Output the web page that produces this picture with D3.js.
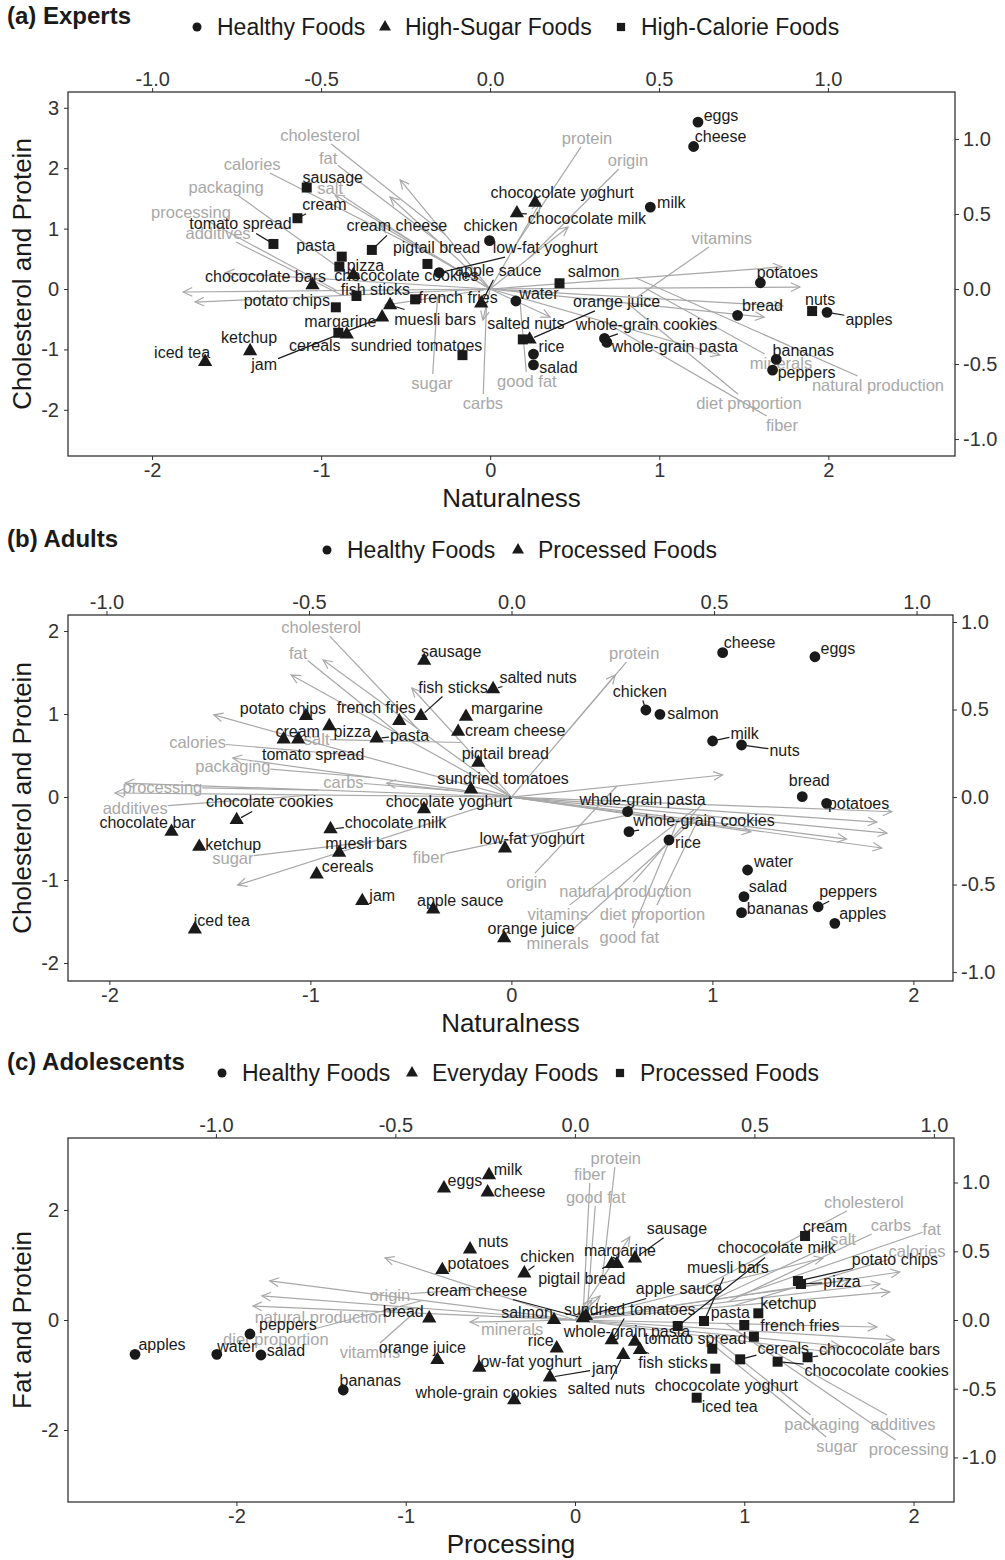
<!DOCTYPE html>
<html>
<head>
<meta charset="utf-8">
<script src="https://cdn.jsdelivr.net/npm/d3@7"></script>
<style>
  body { margin: 0; background: #fff; }
  svg { display: block; font-family: "Liberation Sans", Arial, sans-serif; }
</style>
</head>
<body>
<svg width="1005" height="1560"></svg>
<script>
'use strict';

// variables shown as arrows (same order in every panel)
const varNames = ['cholesterol', 'fat', 'calories', 'salt', 'packaging', 'processing', 'additives', 'sugar', 'carbs',
  'good fat', 'protein', 'origin', 'vitamins', 'minerals', 'natural production', 'diet proportion', 'fiber']

// ---- (a) Experts ----
const legendA = ['Healthy Foods', 'High-Sugar Foods', 'High-Calorie Foods']
const foodsA = ['eggs', 'cheese', 'milk', 'chicken', 'low-fat yoghurt', 'water', 'rice', 'salad', 'whole-grain cookies',
  'whole-grain pasta', 'potatoes', 'bread', 'apples', 'bananas', 'peppers',
  'chococolate yoghurt', 'chococolate milk', 'apple sauce', 'chococolate cookies', 'chococolate bars', 'muesli bars',
  'jam', 'cereals', 'ketchup', 'iced tea', 'orange juice',
  'sausage', 'cream', 'tomato spread', 'pasta', 'pizza', 'cream cheese', 'pigtail bread', 'potato chips', 'fish sticks',
  'margarine', 'french fries', 'salmon', 'salted nuts', 'nuts', 'sundried tomatoes']
const dim1A = [1.229, 1.203, 0.947, -0.004, -0.302, 0.152, 0.256, 0.256, 0.676, 0.69, 1.598, 1.463, 1.992, 1.692, 1.67,
  0.266, 0.158, -0.053, -0.809, -1.051, -0.592, -0.639, -0.848, -1.42, -1.686, 0.233,
  -1.085, -1.14, -1.282, -0.878, -0.892, -0.7, -0.371, -0.913, -0.791, -0.898, -0.444, 0.41, 0.193, 1.904, -0.164]
const dim2A = [2.764, 2.36, 1.355, 0.801, 0.27, -0.199, -1.078, -1.255, -0.818, -0.884, 0.104, -0.436, -0.386, -1.166, -1.343,
  1.431, 1.255, -0.237, 0.232, 0.066, -0.265, -0.469, -0.751, -1.028, -1.206, -0.834,
  1.68, 1.172, 0.746, 0.536, 0.37, 0.647, 0.415, -0.303, -0.116, -0.725, -0.171, 0.095, -0.834, -0.365, -1.095]
const groupA = [0, 0, 0, 0, 0, 0, 0, 0, 0, 0, 0, 0, 0, 0, 0,
  1, 1, 1, 1, 1, 1, 1, 1, 1, 1, 1,
  2, 2, 2, 2, 2, 2, 2, 2, 2, 2, 2, 2, 2, 2, 2]
const loadXA = [-0.266, -0.296, -0.325, -0.459, -0.784, -0.908, -0.873, -0.311, -0.021, 0.178, 0.148, 0.231, 0.867, 0.917, 0.864, 0.811, 0.68]
const loadYA = [0.727, 0.613, 0.427, 0.627, 0.107, -0.02, -0.087, -0.107, -0.207, -0.187, 0.573, 0.413, -0.113, 0.013, 0.147, -0.187, -0.44]
const labXA = [-0.503, -0.479, -0.704, -0.473, -0.781, -0.885, -0.805, -0.172, -0.021, 0.109, 0.287, 0.408, 0.686, 0.861, 1.148, 0.766, 0.864]
const labYA = [1.027, 0.873, 0.833, 0.673, 0.68, 0.513, 0.373, -0.627, -0.76, -0.613, 1.007, 0.86, 0.34, -0.493, -0.64, -0.76, -0.907]

// ---- (b) Adults ----
const legendB = ['Healthy Foods', 'Processed Foods']
const foodsB = ['cheese', 'eggs', 'chicken', 'salmon', 'milk', 'nuts', 'bread', 'potatoes', 'whole-grain pasta',
  'whole-grain cookies', 'rice', 'water', 'salad', 'bananas', 'peppers', 'apples',
  'sausage', 'salted nuts', 'fish sticks', 'french fries', 'margarine', 'potato chips', 'cream', 'tomato spread', 'pizza',
  'pasta', 'cream cheese', 'pigtail bread', 'sundried tomatoes', 'chocolate yoghurt', 'chocolate milk', 'chocolate cookies',
  'chocolate bar', 'ketchup', 'muesli bars', 'cereals', 'jam', 'apple sauce', 'iced tea', 'low-fat yoghurt', 'orange juice']
const dim1B = [1.051, 1.51, 0.669, 0.739, 1.001, 1.145, 1.447, 1.568, 0.578, 0.585, 0.784, 1.175, 1.157, 1.145, 1.526, 1.609,
  -0.434, -0.091, -0.45, -0.558, -0.226, -1.022, -1.133, -1.061, -0.906, -0.671, -0.265, -0.165, -0.201, -0.435, -0.9,
  -1.367, -1.691, -1.553, -0.857, -0.969, -0.742, -0.389, -1.575, -0.032, -0.036]
const dim2B = [1.739, 1.69, 1.048, 0.996, 0.675, 0.627, 0.004, -0.076, -0.177, -0.418, -0.518, -0.88, -1.201, -1.394, -1.322, -1.522,
  1.642, 1.301, 0.976, 0.916, 0.967, 0.976, 0.695, 0.695, 0.855, 0.707, 0.787, 0.413, 0.093, -0.145, -0.386,
  -0.277, -0.418, -0.598, -0.671, -0.931, -1.253, -1.353, -1.594, -0.618, -1.702]
const groupB = [0, 0, 0, 0, 0, 0, 0, 0, 0, 0, 0, 0, 0, 0, 0, 0,
  1, 1, 1, 1, 1, 1, 1, 1, 1, 1, 1, 1, 1, 1, 1, 1, 1, 1, 1, 1, 1, 1, 1, 1, 1]
const loadXB = [-0.465, -0.544, -0.735, -0.246, -0.688, -0.954, -0.979, -0.676, -0.308, 0.827, 0.256, 0.521, 0.902, 0.927, 0.939, 0.914, 0.591]
const loadYB = [0.783, 0.697, 0.469, 0.623, 0.223, 0.08, 0.023, -0.503, 0.08, -0.24, 0.697, 0.126, -0.143, -0.206, -0.084, -0.291, -0.198]
const labXB = [-0.47, -0.527, -0.775, -0.481, -0.688, -0.862, -0.929, -0.688, -0.415, 0.291, 0.303, 0.037, 0.114, 0.114, 0.281, 0.348, -0.204]
const labYB = [0.971, 0.823, 0.314, 0.33, 0.177, 0.057, -0.063, -0.349, 0.086, -0.8, 0.823, -0.486, -0.669, -0.834, -0.537, -0.669, -0.343]

// ---- (c) Adolescents ----
const legendC = ['Healthy Foods', 'Everyday Foods', 'Processed Foods']
const foodsC = ['apples', 'water', 'salad', 'peppers', 'bananas',
  'eggs', 'milk', 'cheese', 'nuts', 'potatoes', 'chicken', 'cream cheese', 'bread', 'orange juice', 'low-fat yoghurt',
  'whole-grain cookies', 'salmon', 'rice', 'margarine', 'pigtail bread', 'sausage', 'apple sauce', 'sundried tomatoes',
  'whole-grain pasta', 'fish sticks', 'salted nuts', 'jam',
  'cream', 'pizza', 'potato chips', 'ketchup', 'chococolate milk', 'muesli bars', 'pasta', 'french fries', 'tomato spread',
  'cereals', 'chococolate bars', 'chococolate cookies', 'chococolate yoghurt', 'iced tea']
const dim1C = [-2.599, -2.116, -1.855, -1.92, -1.369,
  -0.774, -0.508, -0.516, -0.62, -0.784, -0.299, 0.047, -0.861, -0.813, -0.565, -0.359, -0.124, -0.108, 0.248, 0.217,
  0.354, 0.065, 0.217, 0.354, 0.384, 0.285, -0.148,
  1.359, 1.335, 1.317, 1.083, 0.607, 0.762, 1.0, 1.057, 0.811, 0.976, 1.374, 1.197, 0.829, 0.719]
const dim2C = [-0.624, -0.624, -0.636, -0.255, -1.273,
  2.395, 2.636, 2.322, 1.285, 0.909, 0.849, 0.036, 0.031, -0.727, -0.867, -1.455, 0, -0.515, 1.018, 1.018,
  1.122, 0.073, -0.364, -0.395, -0.545, -0.636, -1.042,
  1.527, 0.655, 0.709, 0.122, -0.109, -0.018, -0.091, -0.304, -0.522, -0.715, -0.678, -0.758, -0.885, -1.413]
const groupC = [0, 0, 0, 0, 0,
  1, 1, 1, 1, 1, 1, 1, 1, 1, 1, 1, 1, 1, 1, 1, 1, 1, 1, 1, 1, 1, 1,
  2, 2, 2, 2, 2, 2, 2, 2, 2, 2, 2, 2, 2, 2]
const loadXC = [0.691, 0.905, 0.877, 0.766, 0.738, 0.841, 0.891, 0.71, 0.85, 0.07, 0.153, -0.529, -0.897, -0.292, -0.872, -0.85, 0.047]
const loadYC = [0.451, 0.349, 0.204, 0.291, -0.189, -0.051, -0.145, -0.233, 0.262, 0.175, 0.604, 0.451, 0.102, -0.015, 0.175, 0.284, 0.145]
const labXC = [0.805, 0.994, 0.953, 0.747, 0.688, 0.93, 0.914, 0.73, 0.88, 0.058, 0.114, -0.515, -0.571, -0.175, -0.708, -0.833, 0.042]
const labYC = [0.858, 0.662, 0.502, 0.589, -0.756, -0.938, -0.756, -0.916, 0.691, 0.895, 1.178, 0.182, -0.233, -0.065, 0.022, -0.138, 1.062]

// label placement (pixel offsets of each food label from its point, like repelled labels)
const nudgeA = [[23, -7], [27, -10], [21, -5], [1, -15], [106, -25], [23, -8], [18, -8], [25, 3], [42, -14], [68, 4],
  [27, -10], [25, -10], [42, 7], [27, -9], [34, 2], [27, -10], [70, 5], [17, -33], [53, 1], [-47, -9], [45, 14],
  [-118, 47], [-32, 11], [-1, -14], [-23, -9], [87, -38], [26, -10], [27, -14], [-33, -20], [-26, -11], [26, -1],
  [25, -24], [9, -16], [-49, -7], [19, -7], [2, -11], [43, -2], [34, -12], [3, -16], [8, -12], [-46, -10]]
const nudgeB = [[27, -10], [23, -8], [-6, -19], [33, -1], [32, -7], [43, 6], [7, -16], [32, 0], [15, -12], [75, -11],
  [19, 3], [26, -9], [24, -10], [36, -4], [30, -15], [28, -10], [27, -9], [45, -12], [32, -29], [-23, -13], [41, -8],
  [-23, -8], [14, -8], [15, 15], [23, 5], [33, -3], [57, -1], [27, -9], [32, -11], [25, -8], [65, -7], [33, -18],
  [-24, -9], [34, -2], [27, -9], [31, -8], [20, -5], [27, -9], [27, -9], [27, -10], [27, -10]]
const nudgeC = [[27, -10], [20, -8], [25, -4], [38, -10], [27, -10], [21, -8], [19, -6], [32, -1], [23, -8], [36, -7],
  [23, -17], [-106, -28], [-26, -7], [-15, -12], [50, -6], [-28, -8], [-27, -8], [-16, -8], [3, -14], [-30, 14],
  [42, -30], [93, -27], [18, -31], [-8, -10], [33, 13], [-17, 34], [55, -9], [20, -10], [41, -2], [97, -22], [30, -10],
  [99, -78], [24, -53], [-14, -13], [46, -11], [-17, -10], [43, -11], [72, -8], [99, 9], [11, 17], [33, 9]]

const panels = [
  { title: '(a) Experts', legend: legendA, legendX: [197, 385, 621], foods: foodsA, d1: dim1A, d2: dim2A, group: groupA,
    lx: loadXA, ly: loadYA, tx: labXA, ty: labYA, nudge: nudgeA,
    left: 68, right: 955, top: 92, bottom: 456,
    xDom: [-2.497, 2.749], yDom: [-2.765, 3.262], x2Dom: [-1.249, 1.376], y2Dom: [-1.113, 1.313],
    yTicks: [-2, -1, 0, 1, 2, 3], xTitle: 'Naturalness', yTitle: 'Cholesterol and Protein' },
  { title: '(b) Adults', legend: legendB, legendX: [327, 518], foods: foodsB, d1: dim1B, d2: dim2B, group: groupB,
    lx: loadXB, ly: loadYB, tx: labXB, ty: labYB, nudge: nudgeB,
    left: 68, right: 953, top: 615, bottom: 981,
    xDom: [-2.206, 2.197], yDom: [-2.217, 2.193], x2Dom: [-1.095, 1.09], y2Dom: [-1.051, 1.04],
    yTicks: [-2, -1, 0, 1, 2], xTitle: 'Naturalness', yTitle: 'Cholesterol and Protein' },
  { title: '(c) Adolescents', legend: legendC, legendX: [222, 412, 620], foods: foodsC, d1: dim1C, d2: dim2C, group: groupC,
    lx: loadXC, ly: loadYC, tx: labXC, ty: labYC, nudge: nudgeC,
    left: 68, right: 954, top: 1138, bottom: 1502,
    xDom: [-2.995, 2.239], yDom: [-3.309, 3.309], x2Dom: [-1.412, 1.056], y2Dom: [-1.324, 1.324],
    yTicks: [-2, 0, 2], xTitle: 'Processing', yTitle: 'Fat and Protein' }
]

const svg = d3.select('svg')
const ink = '#1a1a1a'
const grey = '#a8a8a8'
const shapes = [d3.symbolCircle, d3.symbolTriangle, d3.symbolSquare]
const shapeSize = [92, 88, 100]
const legendSize = [64, 62, 68]

// point where the segment from box centre to (px, py) leaves the box
function edgePoint(box, px, py, pad) {
  const cx = box.x + box.width / 2
  const cy = box.y + box.height / 2
  const hw = box.width / 2 + pad
  const hh = box.height / 2 + pad
  const dx = px - cx
  const dy = py - cy
  if (Math.abs(dx) <= hw && Math.abs(dy) <= hh) return null
  const s = Math.min(dx ? hw / Math.abs(dx) : Infinity, dy ? hh / Math.abs(dy) : Infinity)
  return [cx + dx * s, cy + dy * s]
}

function drawPanel(p) {
  const g = svg.append('g')
  const x = d3.scaleLinear().domain(p.xDom).range([p.left, p.right])
  const y = d3.scaleLinear().domain(p.yDom).range([p.bottom, p.top])
  const x2 = d3.scaleLinear().domain(p.x2Dom).range([p.left, p.right])
  const y2 = d3.scaleLinear().domain(p.y2Dom).range([p.bottom, p.top])

  // title + legend
  g.append('text').attr('x', 7).attr('y', p.top - 68)
    .style('font-size', '24px').style('font-weight', 'bold').style('fill', ink)
    .text(p.title)
  p.legend.forEach((name, i) => {
    const lx = p.legendX[i]
    const ly = p.top - 65
    g.append('path').attr('d', d3.symbol(shapes[i], legendSize[i])())
      .attr('transform', `translate(${lx},${ly})`).style('fill', ink)
    g.append('text').attr('x', lx + 20).attr('y', ly).attr('dominant-baseline', 'central')
      .style('font-size', '23px').style('fill', ink).text(name)
  })

  // axes
  const styleAxis = (sel) => {
    sel.select('.domain').remove()
    sel.selectAll('.tick line').style('stroke', '#333')
    sel.selectAll('.tick text').style('font-size', '20px').style('fill', '#333')
      .style('font-family', '"Liberation Sans", Arial, sans-serif')
  }
  const f1 = (d) => d.toFixed(1)
  g.append('g').attr('transform', `translate(0,${p.bottom})`)
    .call(d3.axisBottom(x).tickValues([-2, -1, 0, 1, 2]).tickFormat(String).tickSize(4).tickPadding(3))
    .call(styleAxis)
  g.append('g').attr('transform', `translate(${p.left},0)`)
    .call(d3.axisLeft(y).tickValues(p.yTicks).tickFormat(String).tickSize(4).tickPadding(5))
    .call(styleAxis)
  g.append('g').attr('transform', `translate(0,${p.top})`)
    .call(d3.axisTop(x2).tickValues([-1, -0.5, 0, 0.5, 1]).tickFormat(f1).tickSize(4).tickPadding(2))
    .call(styleAxis)
  g.append('g').attr('transform', `translate(${p.right},0)`)
    .call(d3.axisRight(y2).tickValues([-1, -0.5, 0, 0.5, 1]).tickFormat(f1).tickSize(4).tickPadding(4))
    .call(styleAxis)

  g.append('rect').attr('x', p.left).attr('y', p.top)
    .attr('width', p.right - p.left).attr('height', p.bottom - p.top)
    .style('fill', 'none').style('stroke', '#222').style('stroke-width', 1.2)

  g.append('text').attr('x', (p.left + p.right) / 2).attr('y', p.bottom + 51)
    .attr('text-anchor', 'middle').style('font-size', '26px').style('fill', ink).text(p.xTitle)
  g.append('text').attr('transform', `translate(22,${(p.top + p.bottom) / 2}) rotate(-90)`)
    .attr('text-anchor', 'middle').attr('dominant-baseline', 'central')
    .style('font-size', '26px').style('fill', ink).text(p.yTitle)

  // variable arrows
  const ox = x2(0)
  const oy = y2(0)
  const arrows = g.append('g').style('stroke', grey).style('stroke-width', 1.2).style('fill', 'none')
  varNames.forEach((v, i) => {
    const tx = x2(p.lx[i])
    const ty = y2(p.ly[i])
    arrows.append('line').attr('x1', ox).attr('y1', oy).attr('x2', tx).attr('y2', ty)
    const ang = Math.atan2(ty - oy, tx - ox)
    const L = 10
    const a = Math.PI / 7
    arrows.append('path').attr('d',
      `M${tx - L * Math.cos(ang - a)},${ty - L * Math.sin(ang - a)}L${tx},${ty}` +
      `L${tx - L * Math.cos(ang + a)},${ty - L * Math.sin(ang + a)}`)
  })

  // variable labels with their leader to the arrow midpoint
  varNames.forEach((v, i) => {
    const t = g.append('text').attr('x', x2(p.tx[i])).attr('y', y2(p.ty[i]))
      .attr('text-anchor', 'middle').attr('dominant-baseline', 'central')
      .style('font-size', '16.5px').style('fill', grey).text(v)
    const ax = (ox + x2(p.lx[i])) / 2
    const ay = (oy + y2(p.ly[i])) / 2
    const e = edgePoint(t.node().getBBox(), ax, ay, 0)
    if (e && Math.hypot(ax - e[0], ay - e[1]) > 3) {
      arrows.append('line').attr('x1', e[0]).attr('y1', e[1]).attr('x2', ax).attr('y2', ay)
    }
  })

  // food points and labels
  const leaders = g.append('g').style('stroke', ink).style('stroke-width', 1.2)
  const pts = g.append('g')
  const labs = g.append('g')
  p.foods.forEach((name, i) => {
    const px = x(p.d1[i])
    const py = y(p.d2[i])
    const k = p.group[i]
    pts.append('path').attr('d', d3.symbol(shapes[k], shapeSize[k])())
      .attr('transform', `translate(${px},${py})`).style('fill', ink)
    const t = labs.append('text').attr('x', px + p.nudge[i][0]).attr('y', py + p.nudge[i][1])
      .attr('text-anchor', 'middle').attr('dominant-baseline', 'central')
      .style('font-size', '16px').style('fill', ink).text(name)
    const e = edgePoint(t.node().getBBox(), px, py, 1)
    if (e) {
      const len = Math.hypot(px - e[0], py - e[1])
      if (len > 9.5) {
        const s = (len - 5) / len
        leaders.append('line').attr('x1', e[0]).attr('y1', e[1])
          .attr('x2', e[0] + (px - e[0]) * s).attr('y2', e[1] + (py - e[1]) * s)
      }
    }
  })
}

panels.forEach(drawPanel)
</script>
</body>
</html>
